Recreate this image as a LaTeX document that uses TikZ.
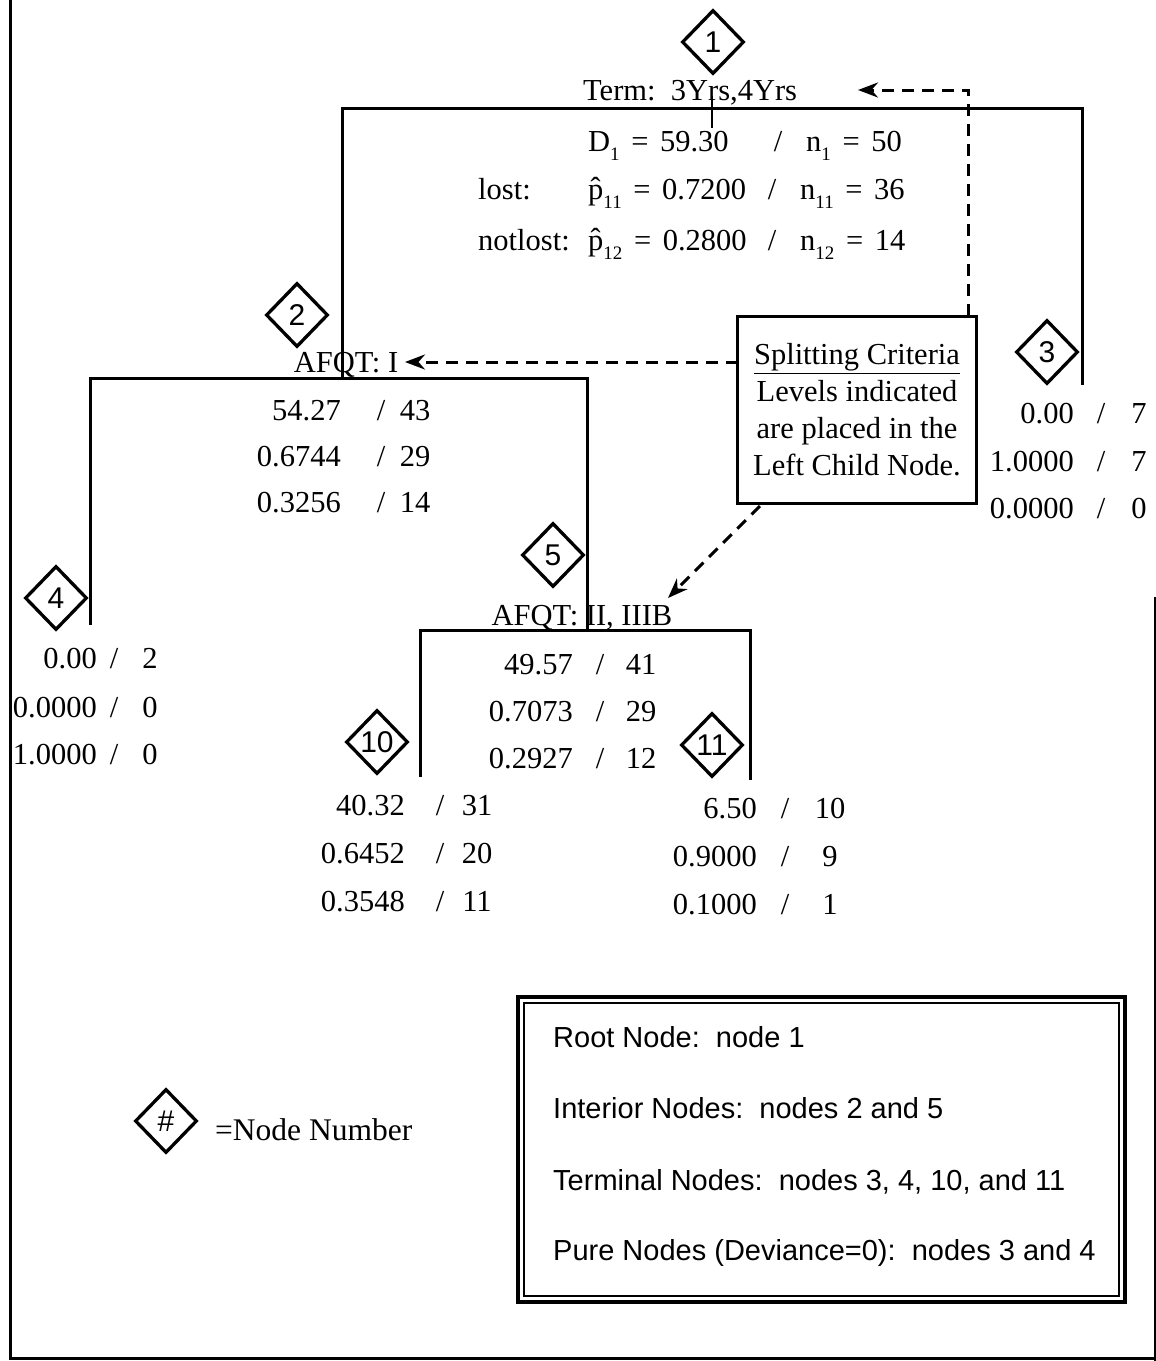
\documentclass[tikz,border=0pt]{standalone}
\usepackage{fontspec}
\usepackage{graphicx}
\setmainfont{Liberation Serif}
\setsansfont{Liberation Sans}
\usetikzlibrary{shapes.geometric,arrows.meta}
\newcommand\lsub[1]{\raisebox{-0.32em}{\fontsize{19}{19}\selectfont #1}}
\newcommand\eqs{\hspace{0.38em}=\hspace{0.38em}}
\newcommand\valrow[7]{%
  \node[txt, anchor=base east] (#1l) at (#2,#5) {#6};
  \node[txt, anchor=base] (#1s) at (#3,#5) {/};
  \node[txt, anchor=base] (#1r) at (#4,#5) {#7};}
\begin{document}
\begin{tikzpicture}[x=1pt,y=-1pt,
  tree/.style={line width=3pt},
  thin tick/.style={line width=1.3pt},
  dia/.style={diamond, draw, line width=3.3pt, minimum width=62pt, minimum height=64pt,
    inner sep=0pt, font=\fontsize{30}{30}\selectfont\sffamily},
  txt/.style={font=\fontsize{30.5}{36}\selectfont, inner sep=0pt},
  legtxt/.style={font=\fontsize{29}{34}\selectfont\sffamily, inner sep=0pt, anchor=base west},
  dl/.style={line width=3pt, dash pattern=on 12pt off 8pt, -{Stealth[length=20pt,width=15pt]}},
  frame/.style={line width=3pt}]
\useasboundingbox (0,0) rectangle (1156,1361);

% frame
\coordinate (f1) at (10,0);
\coordinate (f2) at (10,1358);
\coordinate (f3) at (1156,1358);
\coordinate (f4) at (1155,597);
\coordinate (f5) at (1155,1361);
\draw[frame] (f1) -- (f2) -- (f3);
\draw[line width=1.5pt] (f4) -- (f5);

% tree lines
\coordinate (s2b) at (342,378);
\coordinate (s1l) at (342,108);
\coordinate (s1r) at (1082,108);
\coordinate (s3b) at (1082,385);
\draw[tree] (s2b) -- (s1l) -- (s1r) -- (s3b);
\coordinate (t1a) at (712,96);
\coordinate (t1b) at (712,128);
\draw[thin tick] (t1a) -- (t1b);
\coordinate (s4b) at (90,625);
\coordinate (s2l) at (90,378);
\coordinate (s2r) at (587,378);
\coordinate (s5b) at (587,630);
\draw[tree] (s4b) -- (s2l) -- (s2r) -- (s5b);
\coordinate (s10b) at (420,777);
\coordinate (s5l) at (420,630);
\coordinate (s5r) at (750,630);
\coordinate (s11b) at (750,780);
\draw[tree] (s10b) -- (s5l) -- (s5r) -- (s11b);

% diamonds
\node[dia] (d1) at (713,42) {1};
\node[dia] (d2) at (297,315) {2};
\node[dia] (d3) at (1047,352) {3};
\node[dia] (d4) at (56,598) {4};
\node[dia] (d5) at (553,555) {5};
\node[dia] (d10) at (377,742) {10};
\node[dia] (d11) at (712,745) {11};
\node[dia] (dleg) at (166,1121) {\#};

% root texts
\node[txt, anchor=base west] (term) at (583,100) {Term:\ \ 3Yrs,4Yrs};
\node[txt, anchor=base west] (r1l) at (588,151) {D\lsub{1}\eqs 59.30};
\node[txt, anchor=base] (r1s) at (778,151) {/};
\node[txt, anchor=base west] (r1r) at (806,151) {n\lsub{1}\eqs 50};
\node[txt, anchor=base west] (lost) at (478,199) {lost:};
\node[txt, anchor=base west] (r2l) at (588,199) {p̂\lsub{11}\eqs 0.7200};
\node[txt, anchor=base] (r2s) at (772,199) {/};
\node[txt, anchor=base west] (r2r) at (800,199) {n\lsub{11}\eqs 36};
\node[txt, anchor=base west] (notlost) at (478,250) {notlost:};
\node[txt, anchor=base west] (r3l) at (588,250) {p̂\lsub{12}\eqs 0.2800};
\node[txt, anchor=base] (r3s) at (772,250) {/};
\node[txt, anchor=base west] (r3r) at (800,250) {n\lsub{12}\eqs 14};

% split labels
\node[txt, anchor=base] (afq1) at (346,372) {AFQT: I};
\node[txt, anchor=base] (afq2) at (582,625) {AFQT: II,\ IIIB};

% node value blocks
\valrow{a1}{341}{381}{415}{420}{54.27}{43}
\valrow{a2}{341}{381}{415}{466}{0.6744}{29}
\valrow{a3}{341}{381}{415}{512}{0.3256}{14}
\valrow{b1}{1074}{1101}{1139}{423}{0.00}{7}
\valrow{b2}{1074}{1101}{1139}{471}{1.0000}{7}
\valrow{b3}{1074}{1101}{1139}{518}{0.0000}{0}
\valrow{c1}{97}{114}{150}{668}{0.00}{2}
\valrow{c2}{97}{114}{150}{717}{0.0000}{0}
\valrow{c3}{97}{114}{150}{764}{1.0000}{0}
\valrow{e1}{573}{600}{641}{674}{49.57}{41}
\valrow{e2}{573}{600}{641}{721}{0.7073}{29}
\valrow{e3}{573}{600}{641}{768}{0.2927}{12}
\valrow{g1}{405}{440}{477}{815}{40.32}{31}
\valrow{g2}{405}{440}{477}{863}{0.6452}{20}
\valrow{g3}{405}{440}{477}{911}{0.3548}{11}
\valrow{h1}{757}{785}{830}{818}{6.50}{10}
\valrow{h2}{757}{785}{830}{866}{0.9000}{9}
\valrow{h3}{757}{785}{830}{914}{0.1000}{1}

% splitting criteria box
\node[draw, line width=2.8pt, minimum width=239pt, minimum height=187pt, inner sep=0pt,
  align=center, font=\fontsize{30.5}{37}\selectfont] (sc) at (857,410)
  {\underline{Splitting Criteria}\\Levels indicated\\are placed in the\\Left Child Node.};

% dashed arrows
\coordinate (u0) at (968,316);
\coordinate (u1) at (968,90);
\coordinate (u2) at (858,90);
\draw[dl] (u0) -- (u1) -- (u2);
\coordinate (v0) at (738,362);
\coordinate (v1) at (405,362);
\draw[dl] (v0) -- (v1);
\coordinate (w0) at (760,506);
\coordinate (w1) at (668,598);
\draw[dl] (w0) -- (w1);

% legend
\node[txt, anchor=base west, font=\fontsize{31.5}{36}\selectfont] (nn) at (215,1140) {=Node Number};
\node[draw, line width=3.3pt, minimum width=607pt, minimum height=305pt, inner sep=0pt] (legout) at (821.5,1149.5) {};
\node[draw, line width=2pt, minimum width=595pt, minimum height=293pt, inner sep=0pt] (legin) at (821.5,1149.5) {};
\node[legtxt] (l1) at (553,1047) {Root Node:\ \ node 1};
\node[legtxt] (l2) at (553,1118) {Interior Nodes:\ \ nodes 2 and 5};
\node[legtxt] (l3) at (553,1190) {Terminal Nodes:\ \ nodes 3, 4, 10, and 11};
\node[legtxt] (l4) at (553,1260) {Pure Nodes (Deviance=0):\ \ nodes 3 and 4};
\end{tikzpicture}
\end{document}
